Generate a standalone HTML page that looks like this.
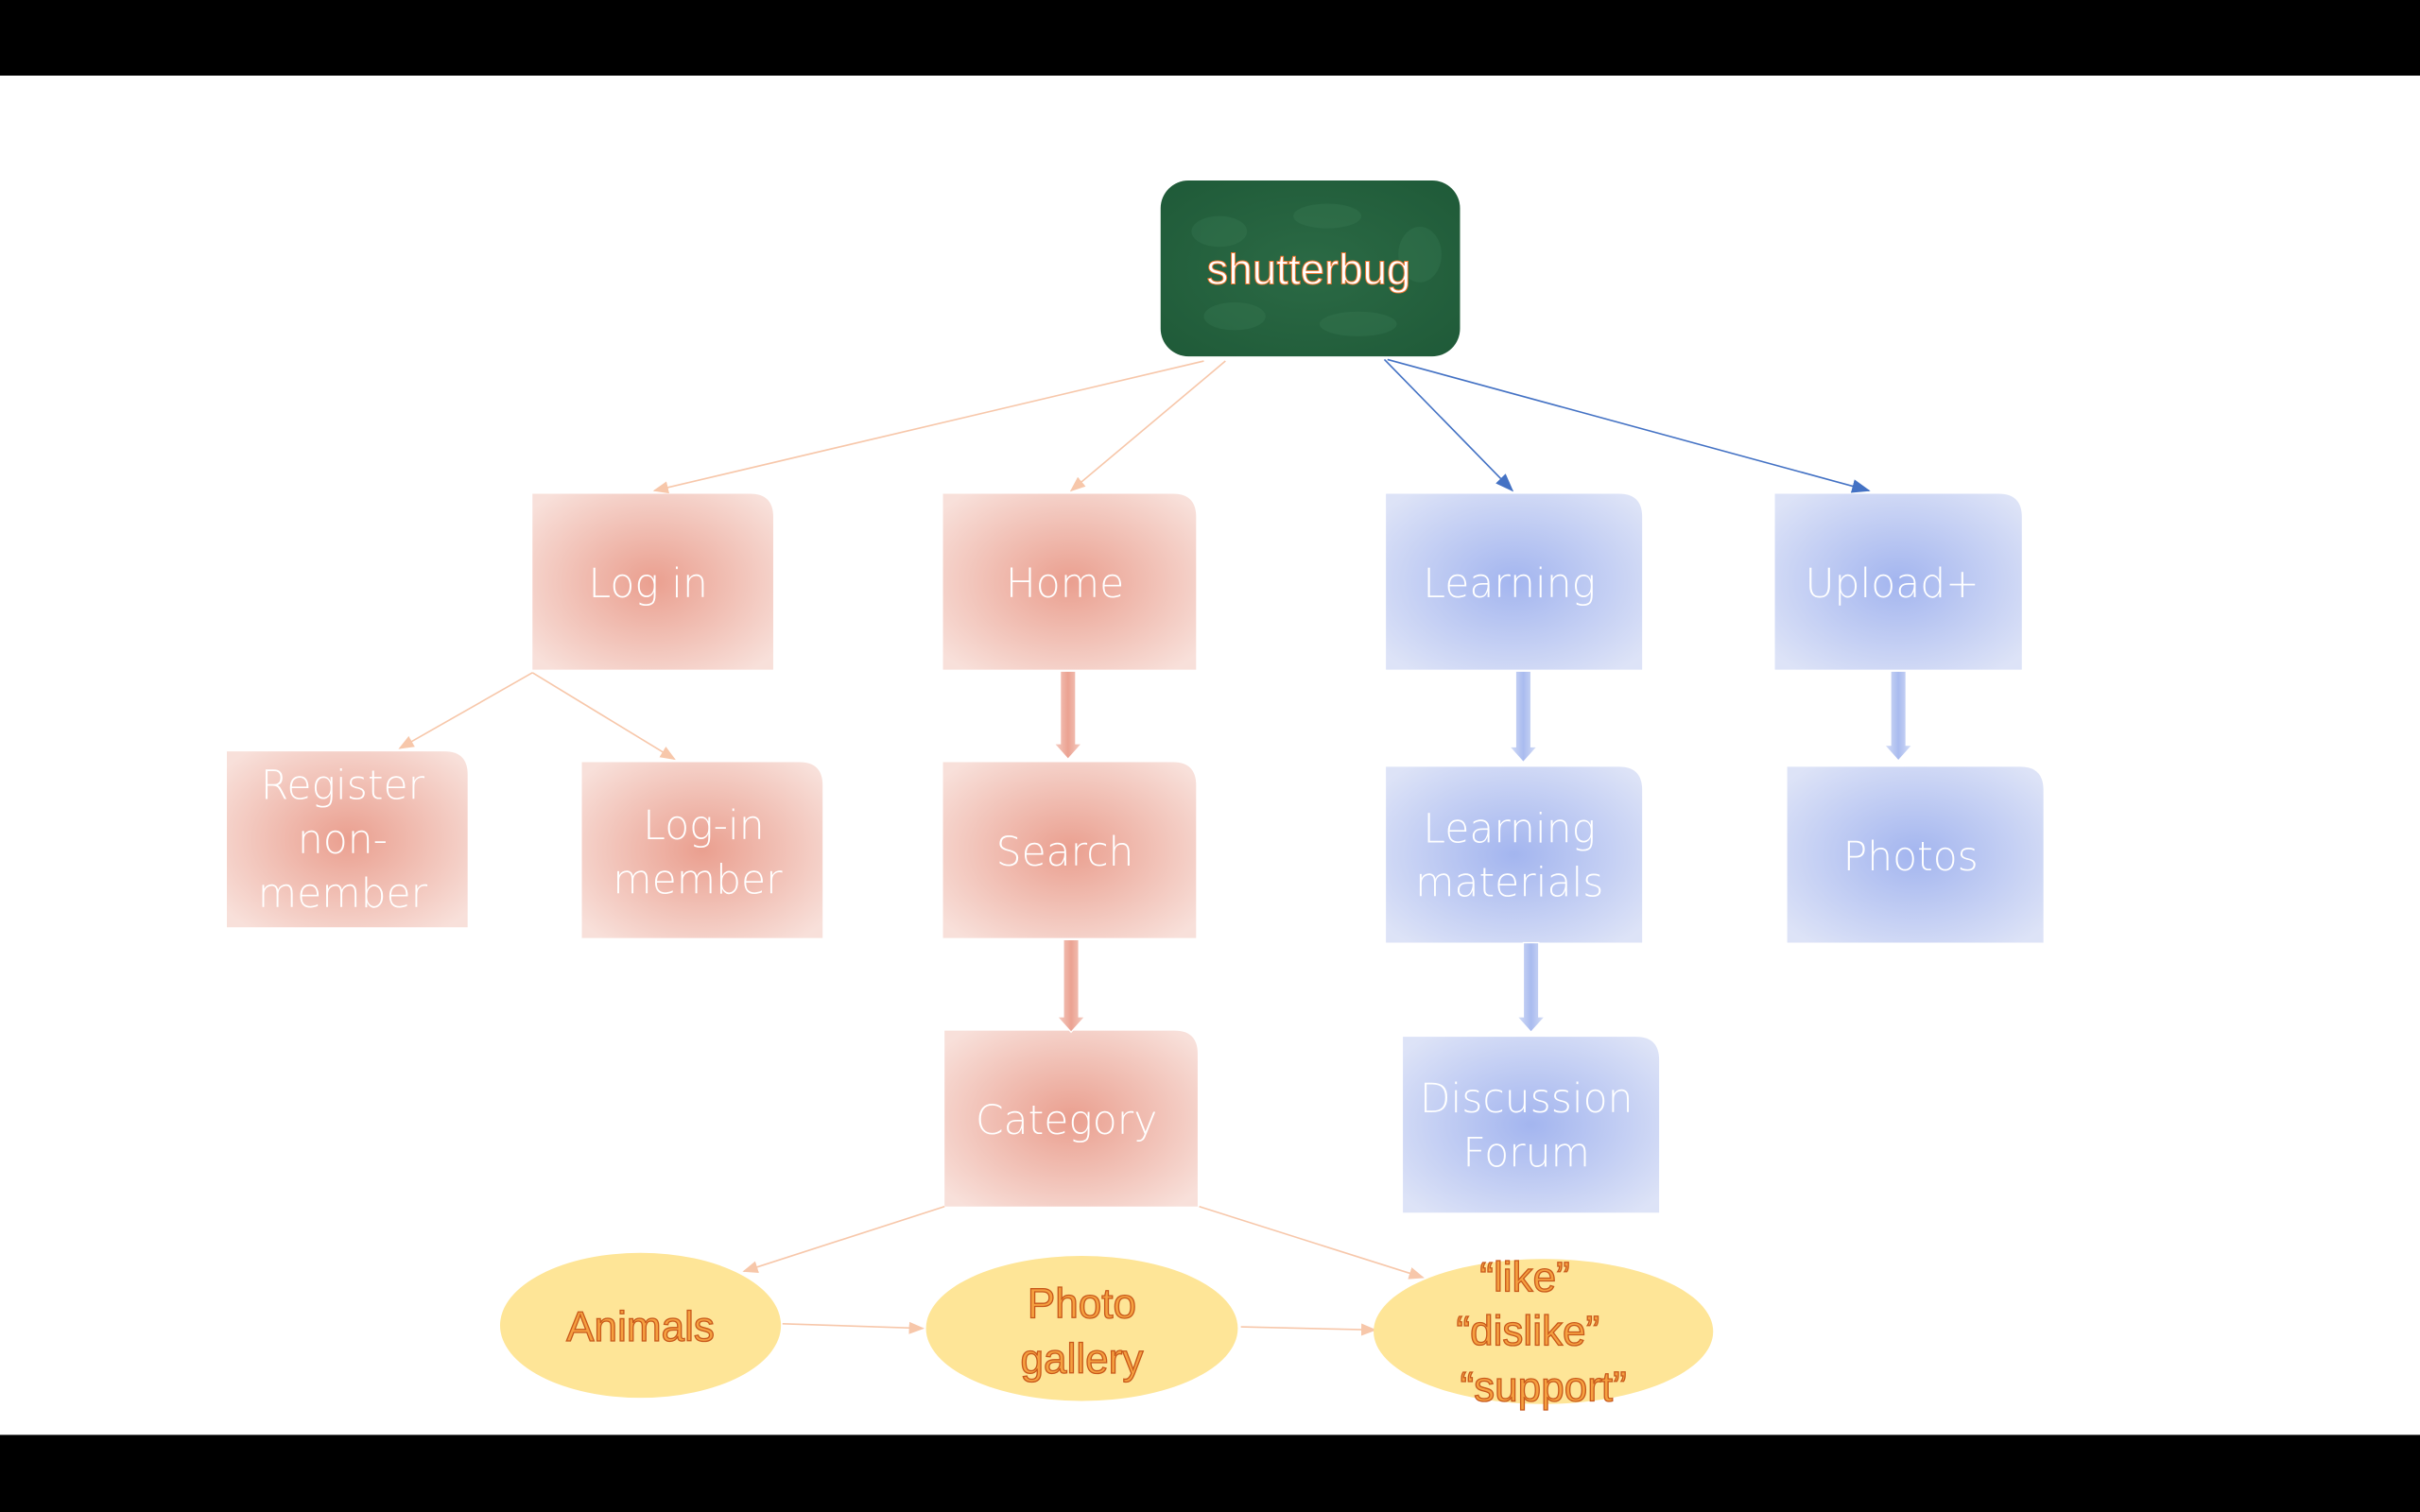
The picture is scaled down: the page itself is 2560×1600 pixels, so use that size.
<!DOCTYPE html>
<html><head><meta charset="utf-8"><style>
html,body{margin:0;padding:0;background:#fff;}
svg{display:block;}
</style></head><body>
<svg width="2560" height="1600" viewBox="0 0 1568 980" preserveAspectRatio="none" xmlns="http://www.w3.org/2000/svg">
<defs>
<radialGradient id="rg" cx="50%" cy="50%" r="65%"><stop offset="0" stop-color="#ea9f8f"/><stop offset="1" stop-color="#f8e0da"/></radialGradient>
<radialGradient id="bg" cx="50%" cy="50%" r="65%"><stop offset="0" stop-color="#a3b5ef"/><stop offset="1" stop-color="#dde3f7"/></radialGradient>
<linearGradient id="ra" x1="0" x2="1"><stop offset="0" stop-color="#f6d0c6"/><stop offset=".5" stop-color="#eba292"/><stop offset="1" stop-color="#f6d0c6"/></linearGradient>
<linearGradient id="ba" x1="0" x2="1"><stop offset="0" stop-color="#d8e0f7"/><stop offset=".5" stop-color="#a9bbef"/><stop offset="1" stop-color="#d8e0f7"/></linearGradient>
<radialGradient id="gr" cx="50%" cy="50%" r="70%"><stop offset="0" stop-color="#2b6a45"/><stop offset="1" stop-color="#1f5a38"/></radialGradient>
<marker id="mo" markerWidth="10" markerHeight="8" refX="9" refY="4" orient="auto" markerUnits="userSpaceOnUse"><path d="M0,0 L10,4 L0,8Z" fill="#f7c7aa"/></marker>
<marker id="mb" markerWidth="12" markerHeight="9" refX="11" refY="4.5" orient="auto" markerUnits="userSpaceOnUse"><path d="M0,0 L12,4.5 L0,9Z" fill="#4472c4"/></marker>
</defs>
<rect x="0" y="0" width="1568" height="49" fill="#000"/>
<rect x="0" y="930" width="1568" height="50" fill="#000"/>

<g fill="none" stroke-width="1">
<line x1="780" y1="234" x2="424" y2="318" stroke="#f7c7aa" marker-end="url(#mo)"/>
<line x1="794" y1="234" x2="694" y2="318" stroke="#f7c7aa" marker-end="url(#mo)"/>
<line x1="897" y1="233" x2="980" y2="318" stroke="#4472c4" marker-end="url(#mb)"/>
<line x1="899" y1="233" x2="1211" y2="318" stroke="#4472c4" marker-end="url(#mb)"/>
<line x1="345" y1="436" x2="259" y2="485" stroke="#f7c7aa" marker-end="url(#mo)"/>
<line x1="345" y1="436" x2="437" y2="492" stroke="#f7c7aa" marker-end="url(#mo)"/>
<line x1="612" y1="782" x2="482" y2="824" stroke="#f7c7aa" marker-end="url(#mo)"/>
<line x1="777" y1="782" x2="922" y2="828" stroke="#f7c7aa" marker-end="url(#mo)"/>
<line x1="507" y1="858" x2="598" y2="861" stroke="#f7c7aa" marker-end="url(#mo)"/>
<line x1="804" y1="860" x2="891" y2="862" stroke="#f7c7aa" marker-end="url(#mo)"/>
</g>

<rect x="752" y="117" width="194" height="114" rx="18" fill="url(#gr)"/>
<g opacity=".08" fill="#7fd0a0">
<ellipse cx="790" cy="150" rx="18" ry="10"/><ellipse cx="860" cy="140" rx="22" ry="8"/><ellipse cx="920" cy="165" rx="14" ry="18"/><ellipse cx="800" cy="205" rx="20" ry="9"/><ellipse cx="880" cy="210" rx="25" ry="8"/>
</g>
<text x="848" y="184" text-anchor="middle" font-family="Liberation Sans, sans-serif" font-size="28" fill="#fff" stroke="#f07830" stroke-width="0.6">shutterbug</text>

<g font-family="DejaVu Sans, Liberation Sans, sans-serif" font-size="26" fill="#fff" text-anchor="middle" font-weight="300">
<path d="M345,320 H486 Q501,320 501,335 V434 H345Z" fill="url(#rg)"/>
<text x="420" y="387">Log in</text>
<path d="M611,320 H760 Q775,320 775,335 V434 H611Z" fill="url(#rg)"/>
<text x="690" y="387">Home</text>
<path d="M898,320 H1049 Q1064,320 1064,335 V434 H898Z" fill="url(#bg)"/>
<text x="978" y="387">Learning</text>
<path d="M1150,320 H1295 Q1310,320 1310,335 V434 H1150Z" fill="url(#bg)"/>
<text x="1226" y="387">Upload+</text>

<path d="M147,487 H288 Q303,487 303,502 V601 H147Z" fill="url(#rg)"/>
<text x="222" y="518">Register</text><text x="222" y="553">non-</text><text x="222" y="588">member</text>
<path d="M377,494 H518 Q533,494 533,509 V608 H377Z" fill="url(#rg)"/>
<text x="456" y="544">Log-in</text><text x="452" y="579">member</text>
<path d="M611,494 H760 Q775,494 775,509 V608 H611Z" fill="url(#rg)"/>
<text x="690" y="561">Search</text>
<path d="M898,497 H1049 Q1064,497 1064,512 V611 H898Z" fill="url(#bg)"/>
<text x="978" y="546">Learning</text><text x="978" y="581">materials</text>
<path d="M1158,497 H1309 Q1324,497 1324,512 V611 H1158Z" fill="url(#bg)"/>
<text x="1238" y="564">Photos</text>
<path d="M612,668 H761 Q776,668 776,683 V782 H612Z" fill="url(#rg)"/>
<text x="691" y="735">Category</text>
<path d="M909,672 H1060 Q1075,672 1075,687 V786 H909Z" fill="url(#bg)"/>
<text x="989" y="721">Discussion</text><text x="989" y="756">Forum</text>
</g>

<path d="M687,435 H697 V482 H701 L692,492 L683,482 H687Z" fill="url(#ra)" stroke="#fff" stroke-width="0.8"/>
<path d="M689,609 H699 V659 H703 L694,669 L685,659 H689Z" fill="url(#ra)" stroke="#fff" stroke-width="0.8"/>
<path d="M982,435 H992 V484 H996 L987,494 L978,484 H982Z" fill="url(#ba)" stroke="#fff" stroke-width="0.8"/>
<path d="M987,611 H997 V659 H1001 L992,669 L983,659 H987Z" fill="url(#ba)" stroke="#fff" stroke-width="0.8"/>
<path d="M1225,435 H1235 V483 H1239 L1230,493 L1221,483 H1225Z" fill="url(#ba)" stroke="#fff" stroke-width="0.8"/>

<ellipse cx="415" cy="859" rx="91" ry="47" fill="#fee597"/>
<ellipse cx="701" cy="861" rx="101" ry="47" fill="#fee597"/>
<ellipse cx="1000" cy="863" rx="110" ry="47" fill="#fee597"/>
<g font-family="Liberation Sans, sans-serif" font-size="27" fill="#f5a040" stroke="#c8581a" stroke-width="0.8" text-anchor="middle">
<text x="415" y="869">Animals</text>
<text x="701" y="854">Photo</text><text x="701" y="890">gallery</text>
<text x="988" y="837">“like”</text><text x="990" y="872">“dislike”</text><text x="1000" y="908">“support”</text>
</g>
</svg>
</body></html>
